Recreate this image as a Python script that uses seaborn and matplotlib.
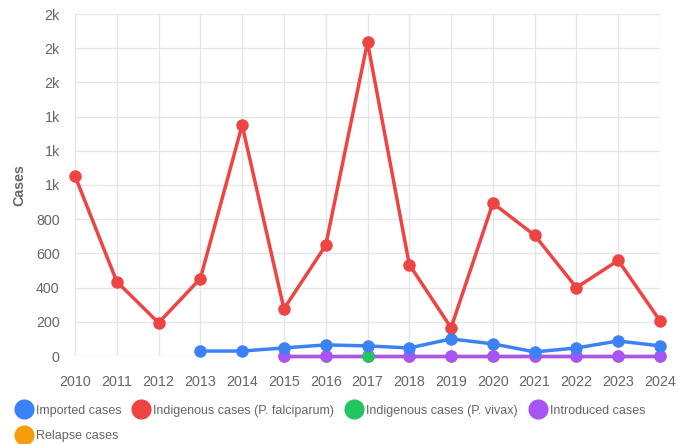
import matplotlib
matplotlib.use("Agg")
import matplotlib.pyplot as plt
from matplotlib.lines import Line2D
from matplotlib.ticker import FuncFormatter, MultipleLocator
import seaborn as sns
import numpy as np
import pandas as pd

years = list(range(2010, 2025))
imported = [np.nan, np.nan, np.nan, 29, 29, 47, 65, 59, 47, 100, 71, 24, 47, 88, 59]
indig_falc = [1053, 435, 194, 453, 1350, 276, 647, 1835, 535, 165, 894, 706, 400, 559, 206]
indig_vivax = [np.nan] * 7 + [0] + [np.nan] * 7
introduced = [np.nan] * 5 + [0] * 10
relapse = [np.nan] * 5 + [0] * 10

series = [
    ("Imported cases", imported, "#3b82f6", 6),
    ("Indigenous cases (P. falciparum)", indig_falc, "#ef4444", 5),
    ("Indigenous cases (P. vivax)", indig_vivax, "#22c55e", 4),
    ("Introduced cases", introduced, "#a855f7", 3),
    ("Relapse cases", relapse, "#f59e0b", 2),
]

sns.set_theme(style="white")
plt.rcParams["font.family"] = ["Liberation Sans", "DejaVu Sans"]

fig = plt.figure(figsize=(6.78, 4.44), dpi=100)
ax = fig.add_axes([75 / 678, (444 - 356) / 444, (660 - 75) / 678, (356 - 14) / 444])

for name, vals, color, z in series:
    df = pd.DataFrame({"year": years, "value": vals}).dropna()
    sns.lineplot(data=df, x="year", y="value", ax=ax, color=color, linewidth=2.5,
                 marker="o", markersize=9, markeredgewidth=0, zorder=z, legend=False)

for l in ax.lines:
    l.set_clip_on(False)

ax.set_xlim(2010, 2024)
ax.set_ylim(0, 2000)
ax.set_xticks(years)
ax.yaxis.set_major_locator(MultipleLocator(200))


def fmt(v, pos):
    if v >= 1000:
        return f"{int(round(v / 1000))}k"
    return f"{int(v)}"


ax.yaxis.set_major_formatter(FuncFormatter(fmt))
ax.grid(True, color="#e6e6e6", linewidth=1)
ax.set_axisbelow(True)
for s in ax.spines.values():
    s.set_visible(False)
ax.tick_params(axis="both", colors="#e6e6e6", labelcolor="#666666", labelsize=10.3,
               length=8, width=1)
ax.tick_params(axis="x", pad=6)
ax.tick_params(axis="y", pad=3)
ax.set_xlabel("")
ax.set_ylabel("Cases", fontsize=10.3, fontweight="bold", color="#666666", labelpad=7)

handles = {name: Line2D([], [], linestyle="none", marker="o", markersize=14.5,
                        markerfacecolor=c, markeredgewidth=0)
           for name, _, c, _ in series}
order = ["Imported cases", "Relapse cases", "Indigenous cases (P. falciparum)",
         "Indigenous cases (P. vivax)", "Introduced cases"]
fig.legend([handles[n] for n in order], order, loc="upper left",
           bbox_to_anchor=(0.013, 0.0995), ncol=4, frameon=False, fontsize=9,
           handlelength=1.6, handletextpad=0.16, columnspacing=0.8,
           labelspacing=1.09, borderaxespad=0, labelcolor="#666666")

fig.savefig("out.png", dpi=100)
